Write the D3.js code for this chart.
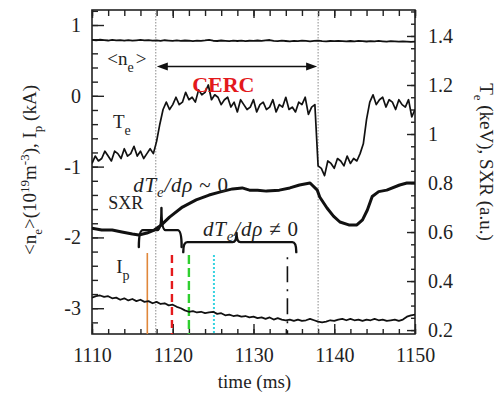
<!DOCTYPE html>
<html>
<head>
<meta charset="utf-8">
<script src="https://cdn.jsdelivr.net/npm/d3@7"></script>
<style>
  body { margin: 0; background: #fff; }
  svg, svg text { font-family: "Liberation Serif", "DejaVu Serif", "Times New Roman", serif !important; }
  svg text { fill: #222; }
</style>
</head>
<body>
<svg id="chart" width="498" height="396"></svg>
<script>
const serif = "'Liberation Serif', 'DejaVu Serif', 'Times New Roman', serif";

// ---- axis ticks ----
const xTicks = [1110, 1120, 1130, 1140, 1150];
const leftTicks = [1, 0, -1, -2, -3];
const leftTickLabels = ["1", "0", "-1", "-2", "-3"];
const rightTicks = [0.2, 0.4, 0.6, 0.8, 1, 1.2, 1.4];
const rightTickLabels = ["0.2", "0.4", "0.6", "0.8", "1", "1.2", "1.4"];

// ---- line-averaged density <n_e> (10^19 m^-3), sampled every 0.5 ms from 1110 ms ----
const neStart = 1110, neStep = 0.5;
const neValues = [
  0.790,0.784,0.792,0.786,0.781,0.789,0.783,0.787,0.780,0.786,0.779,0.784,0.790,0.782,0.786,0.779,0.783,0.777,0.785,0.780,0.776,
  0.782,0.775,0.781,0.778,0.772,0.780,0.776,0.782,0.790,0.778,0.774,0.781,0.776,0.771,0.779,0.774,0.780,0.773,0.778,0.775,
  0.781,0.776,0.784,0.788,0.777,0.772,0.779,0.774,0.770,0.777,0.772,0.779,0.775,0.770,0.776,0.780,0.773,0.769,0.774,0.771,
  0.776,0.772,0.768,0.774,0.770,0.776,0.771,0.767,0.773,0.769,0.775,0.770,0.766,0.772,0.768,0.764,0.770,0.766,0.761,0.765
];

// ---- electron temperature T_e (keV), sampled every 0.4 ms from 1110 ms ----
const teStart = 1110, teStep = 0.4;
const teValues = [
  0.88,0.91,0.89,0.90,0.93,0.91,0.89,0.93,0.92,0.90,0.94,0.91,0.92,0.95,0.91,0.93,0.90,0.92,0.94,0.92,
  0.97,1.04,1.10,1.13,1.10,1.12,1.15,1.12,1.13,1.17,1.14,1.15,1.13,1.18,1.16,1.17,1.20,1.14,1.16,1.15,
  1.12,1.14,1.15,1.11,1.13,1.09,1.14,1.12,1.10,1.11,1.14,1.09,1.12,1.13,1.10,1.11,1.14,1.09,1.12,1.11,
  1.15,1.10,1.11,1.09,1.13,1.12,1.15,1.08,1.11,1.12,0.87,0.86,0.83,0.89,0.88,0.86,0.90,0.89,0.87,0.91,
  0.88,0.90,0.89,0.92,0.96,1.06,1.13,1.16,1.12,1.14,1.15,1.11,1.14,1.13,1.10,1.14,1.12,1.11,1.14,1.07,
  1.10
];

// ---- soft X-ray signal (a.u.) ----
const sxrTime = [1110,1111.2,1112.5,1113.7,1115,1115.8,1116.8,1117.7,1118.6,1119.6,1121.2,1122.9,1124.5,1125.8,
  1127.4,1128.6,1129.5,1130.5,1131.6,1133.2,1134.5,1135.7,1137.0,1137.9,1138.2,1139.1,1139.9,1140.7,1141.8,
  1142.8,1143.5,1144.1,1144.7,1145.5,1146.5,1148.1,1149.0,1150];
const sxrValue = [0.616,0.608,0.608,0.600,0.592,0.588,0.596,0.608,0.629,0.661,0.702,0.731,0.751,0.763,
  0.776,0.780,0.771,0.771,0.767,0.771,0.780,0.792,0.800,0.771,0.743,0.698,0.665,0.641,0.629,
  0.629,0.650,0.690,0.745,0.765,0.771,0.792,0.800,0.800];

// ---- plasma current I_p (kA, offset), sampled every 0.5 ms from 1110 ms ----
const ipStart = 1110, ipStep = 0.5;
const ipValues = [
  -2.85,-2.83,-2.82,-2.84,-2.83,-2.86,-2.85,-2.88,-2.86,-2.89,-2.87,-2.90,-2.88,-2.91,-2.90,-2.93,-2.91,-2.94,-2.93,-2.96,-2.95,
  -2.98,-3.00,-3.03,-3.05,-3.04,-3.06,-3.05,-3.07,-3.06,-3.05,-3.08,-3.07,-3.10,-3.09,-3.11,-3.10,-3.12,-3.11,-3.13,-3.12,
  -3.14,-3.13,-3.15,-3.13,-3.16,-3.14,-3.16,-3.17,-3.16,-3.18,-3.16,-3.18,-3.17,-3.15,-3.17,-3.19,-3.20,-3.19,-3.17,-3.18,
  -3.16,-3.15,-3.17,-3.15,-3.17,-3.16,-3.18,-3.16,-3.17,-3.15,-3.17,-3.16,-3.18,-3.17,-3.16,-3.18,-3.16,-3.12,-3.10,-3.09
];

// ---- CERC phase boundaries (ms) ----
const cercBounds = [1117.9, 1138.0];

// ---- profile-time markers ----
const markerTimes  = [1116.85, 1119.9, 1122.0, 1125.1, 1134.2];
const markerColors = ["#e0873a", "#e41a1c", "#2fcf2f", "#36d3e0", "#111111"];
const markerDashes = [null, "8,5", "9,4", "2,2", "2,7,16,7"];
const markerWidths = [1.6, 2.4, 2.4, 2.0, 1.6];
const markerTops   = [-2.22, -2.25, -2.25, -2.25, -2.28];

// ---- gradient braces (time span, centre, levels in T_e/SXR units) ----
const braceStart = [1115.8, 1121.3];
const braceEnd   = [1121.1, 1135.3];
const braceMid   = [1118.6, 1127.9];
const braceLevel = [0.608, 0.559];
const braceFoot  = [0.539, 0.518];
const braceTip   = [0.698, 0.596];

// ---- layout ----
const plot = { left: 92, right: 415, top: 10, bottom: 334 };
const svg = d3.select("#chart").attr("font-family", serif);

const x = d3.scaleLinear().domain([1110, 1150]).range([plot.left, plot.right]);
const yL = d3.scaleLinear().domain([-3.364, 1.212]).range([plot.bottom, plot.top]);
const yR = d3.scaleLinear().domain([0.184, 1.506]).range([plot.bottom, plot.top]);

svg.append("defs").append("clipPath").attr("id", "clip")
  .append("rect").attr("x", plot.left).attr("y", plot.top)
  .attr("width", plot.right - plot.left).attr("height", plot.bottom - plot.top);

// ---- axes with inward ticks ----
const fontSize = 20;
function styleAxis(g) {
  g.attr("font-family", serif);
  g.select(".domain").remove();
  g.selectAll(".tick line").attr("stroke", "#222").attr("stroke-width", 1.4);
  g.selectAll(".tick text").attr("font-size", fontSize).attr("font-family", serif).attr("fill", "#222");
}

const xMinor = d3.range(1110, 1151, 2);
const leftMinor = d3.range(-3.2, 1.21, 0.2);
const rightMinor = d3.range(0.2, 1.51, 0.05);

// bottom
svg.append("g").attr("transform", `translate(0,${plot.bottom})`)
  .call(d3.axisBottom(x).tickValues(xMinor).tickSize(-5).tickFormat("")).call(styleAxis);
svg.append("g").attr("transform", `translate(0,${plot.bottom})`)
  .call(d3.axisBottom(x).tickValues(xTicks).tickSize(-10).tickPadding(14).tickFormat(d3.format("d")))
  .call(styleAxis);
// top
svg.append("g").attr("transform", `translate(0,${plot.top})`)
  .call(d3.axisTop(x).tickValues(xMinor).tickSize(-6).tickFormat("")).call(styleAxis);
svg.append("g").attr("transform", `translate(0,${plot.top})`)
  .call(d3.axisTop(x).tickValues(xTicks).tickSize(-8).tickFormat("")).call(styleAxis);
// left
svg.append("g").attr("transform", `translate(${plot.left},0)`)
  .call(d3.axisLeft(yL).tickValues(leftMinor).tickSize(-6).tickFormat("")).call(styleAxis);
svg.append("g").attr("transform", `translate(${plot.left},0)`)
  .call(d3.axisLeft(yL).tickValues(leftTicks).tickSize(-12).tickPadding(11)
    .tickFormat((d, i) => leftTickLabels[i])).call(styleAxis);
// right
svg.append("g").attr("transform", `translate(${plot.right},0)`)
  .call(d3.axisRight(yR).tickValues(rightMinor).tickSize(-4).tickFormat("")).call(styleAxis);
svg.append("g").attr("transform", `translate(${plot.right},0)`)
  .call(d3.axisRight(yR).tickValues(rightTicks).tickSize(-8).tickPadding(13)
    .tickFormat((d, i) => rightTickLabels[i])).call(styleAxis);

// frame
svg.append("rect").attr("x", plot.left).attr("y", plot.top)
  .attr("width", plot.right - plot.left).attr("height", plot.bottom - plot.top)
  .attr("fill", "none").attr("stroke", "#222").attr("stroke-width", 1.6);

const body = svg.append("g").attr("clip-path", "url(#clip)");

// CERC boundaries
body.selectAll("line.bound").data(cercBounds).join("line").attr("class", "bound")
  .attr("x1", d => x(d)).attr("x2", d => x(d))
  .attr("y1", plot.top).attr("y2", plot.bottom)
  .attr("stroke", "#8a8a8a").attr("stroke-width", 1).attr("stroke-dasharray", "1.5,1.5");

// profile markers
body.selectAll("line.marker").data(markerTimes).join("line").attr("class", "marker")
  .attr("x1", d => x(d)).attr("x2", d => x(d))
  .attr("y1", (d, i) => yL(markerTops[i])).attr("y2", plot.bottom)
  .attr("stroke", (d, i) => markerColors[i])
  .attr("stroke-width", (d, i) => markerWidths[i])
  .attr("stroke-dasharray", (d, i) => markerDashes[i]);

// series
const sampled = (start, step, vals) => vals.map((v, i) => [start + i * step, v]);
const lineL = d3.line().x(d => x(d[0])).y(d => yL(d[1]));
const lineR = d3.line().x(d => x(d[0])).y(d => yR(d[1]));

body.append("path").datum(sampled(neStart, neStep, neValues)).attr("d", lineL)
  .attr("fill", "none").attr("stroke", "#111").attr("stroke-width", 1.8).attr("stroke-linejoin", "round");
body.append("path").datum(sampled(ipStart, ipStep, ipValues)).attr("d", lineL)
  .attr("fill", "none").attr("stroke", "#111").attr("stroke-width", 1.8).attr("stroke-linejoin", "round");
body.append("path").datum(sampled(teStart, teStep, teValues)).attr("d", lineR)
  .attr("fill", "none").attr("stroke", "#111").attr("stroke-width", 1.7).attr("stroke-linejoin", "round");
body.append("path").datum(sxrTime.map((t, i) => [t, sxrValue[i]])).attr("d", lineR)
  .attr("fill", "none").attr("stroke", "#111").attr("stroke-width", 3).attr("stroke-linejoin", "round");

// braces
function bracePath(i) {
  const x1 = x(braceStart[i]), x2 = x(braceEnd[i]), xm = x(braceMid[i]);
  const yb = yR(braceLevel[i]), yf = yR(braceFoot[i]), yt = yR(braceTip[i]);
  const r = 4;
  return `M${x1},${yf} Q${x1},${yb} ${x1 + r},${yb} L${xm - r},${yb} Q${xm},${yb} ${xm},${yt}` +
         ` M${xm},${yt} Q${xm},${yb} ${xm + r},${yb} L${x2 - r},${yb} Q${x2},${yb} ${x2},${yf}`;
}
body.selectAll("path.brace").data(braceStart).join("path").attr("class", "brace")
  .attr("d", (d, i) => bracePath(i))
  .attr("fill", "none").attr("stroke", "#111").attr("stroke-width", 2.4).attr("stroke-linecap", "round");

// CERC span arrow
const ay = yL(0.414), ax1 = x(cercBounds[0]) + 1, ax2 = x(cercBounds[1]) - 1;
svg.append("line").attr("x1", ax1 + 8).attr("x2", ax2 - 8).attr("y1", ay).attr("y2", ay)
  .attr("stroke", "#111").attr("stroke-width", 1.3);
svg.append("path").attr("d", `M${ax1},${ay} L${ax1 + 11},${ay - 4} L${ax1 + 11},${ay + 4} Z`).attr("fill", "#111");
svg.append("path").attr("d", `M${ax2},${ay} L${ax2 - 11},${ay - 4} L${ax2 - 11},${ay + 4} Z`).attr("fill", "#111");

svg.append("text").attr("x", x(1122.4)).attr("y", yL(0.05)).attr("font-family", serif)
  .attr("font-size", 22).attr("font-weight", "bold").style("fill", "#e3191c").text("CERC");

// series labels
function label(t, v, parts, size, spacing) {
  const el = svg.append("text").attr("x", x(t)).attr("y", yL(v))
    .attr("font-size", size).attr("font-family", serif);
  if (spacing) el.attr("letter-spacing", spacing);
  parts.forEach(p => {
    const ts = el.append("tspan").text(p.s);
    if (p.dy) ts.attr("dy", p.dy);
    if (p.dx) ts.attr("dx", p.dx);
    if (p.fs) ts.attr("font-size", p.fs);
    if (p.it) ts.attr("font-style", "italic");
  });
  return el;
}
label(1111.9, 0.44, [{ s: "<n" }, { s: "e", dy: 7, fs: 14 }, { s: ">", dy: -7, dx: 2 }], 19);
label(1112.6, -0.45, [{ s: "T" }, { s: "e", dy: 7, fs: 14 }], 19);
label(1112.0, -1.6, [{ s: "SXR" }], 18);
label(1113.0, -2.5, [{ s: "I" }, { s: "p", dy: 7, fs: 14 }], 19);
label(1115.1, -1.36, [{ s: "dT", it: true }, { s: "e", dy: 5, fs: 15, it: true }, { s: "/dρ", dy: -5, it: true }, { s: " ~ 0" }], 21, 0.8);
label(1123.75, -1.98, [{ s: "dT", it: true }, { s: "e", dy: 5, fs: 15, it: true }, { s: "/dρ", dy: -5, it: true }, { s: " ≠ 0" }], 21, 0.8);

// axis titles
svg.append("text").attr("x", (plot.left + plot.right) / 2 + 1).attr("y", 388).attr("font-family", serif)
  .attr("text-anchor", "middle").attr("font-size", 19).text("time (ms)");

const lt = svg.append("text").attr("transform", "translate(36,170) rotate(-90)")
  .attr("text-anchor", "middle").attr("font-size", 19).attr("font-family", serif);
lt.append("tspan").text("<n");
lt.append("tspan").attr("dy", 6).attr("font-size", 13).text("e");
lt.append("tspan").attr("dy", -6).text(">(10");
lt.append("tspan").attr("dy", -7).attr("font-size", 13).text("19");
lt.append("tspan").attr("dy", 7).text("m");
lt.append("tspan").attr("dy", -7).attr("font-size", 13).text("-3");
lt.append("tspan").attr("dy", 7).text("), I");
lt.append("tspan").attr("dy", 6).attr("font-size", 13).text("p");
lt.append("tspan").attr("dy", -6).text(" (kA)");

const rt = svg.append("text").attr("transform", "translate(480,162) rotate(90)")
  .attr("text-anchor", "middle").attr("font-size", 19).attr("font-family", serif);
rt.append("tspan").text("T");
rt.append("tspan").attr("dy", 6).attr("font-size", 13).text("e");
rt.append("tspan").attr("dy", -6).text(" (keV), SXR (a.u.)");
</script>
</body>
</html>
